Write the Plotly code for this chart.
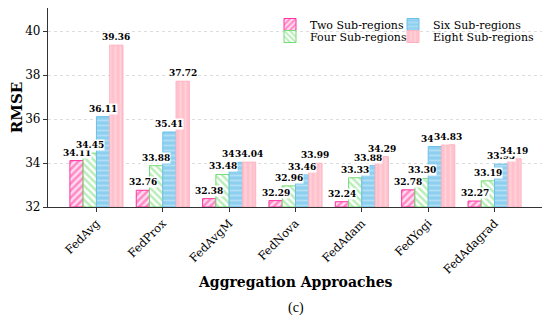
import plotly.graph_objects as go

categories = ["FedAvg", "FedProx", "FedAvgM", "FedNova", "FedAdam", "FedYogi", "FedAdagrad"]
series_names = ["Two Sub-regions", "Four Sub-regions", "Six Sub-regions", "Eight Sub-regions"]
two = [34.11, 32.76, 32.38, 32.29, 32.24, 32.78, 32.27]
four = [34.45, 33.88, 33.48, 32.96, 33.33, 33.30, 33.19]
six = [36.11, 35.41, 34.03, 33.46, 33.88, 34.75, 33.95]
eight = [39.36, 37.72, 34.04, 33.99, 34.29, 34.83, 34.19]
y_ticks = [32, 34, 36, 38, 40]

series = [two, four, six, eight]
styles = [
    dict(shape="/", fg="#ff33a0", bg="#ffdcee", line="#ff33a0", sol=0.5),
    dict(shape="\\", fg="#74dc74", bg="#ffffff", line="#74dc74", sol=0.5),
    dict(shape="-", fg="#d8f0fb", bg="#8dcfee", line="#6cc0ea", sol=0.35),
    dict(shape="|", fg="#ffe3e8", bg="#ffc1cc", line="#ffb1c0", sol=0.35),
]
legend_ids = ["legend", "legend2", "legend3", "legend4"]
serif = "DejaVu Serif"

# page offset compensation (page body margin 8px)
W, H = 542, 316
plot_left, plot_right, plot_top, plot_bottom = 40, 535, 0, 199
pw, ph = plot_right - plot_left, plot_bottom - plot_top

def px_x(x):
    return (x - plot_left) / pw

def px_y(y):
    return (plot_bottom - y) / ph

fig = go.Figure()
xs = list(range(len(categories)))
bw = 0.2
for k, (name, vals, st) in enumerate(zip(series_names, series, styles)):
    fig.add_trace(go.Bar(
        x=xs, y=[v - 32 for v in vals], base=32, name=name, width=bw,
        offset=(k - 2) * bw, legend=legend_ids[k],
        marker=dict(color=st["bg"], line=dict(color=st["line"], width=1),
                    pattern=dict(shape=st["shape"], fgcolor=st["fg"], bgcolor=st["bg"],
                                 size=5, solidity=st["sol"], fillmode="overlay")),
    ))

annotations = []
for k, vals in enumerate(series):
    for i, v in enumerate(vals):
        annotations.append(dict(
            x=i + (k - 1.5) * bw, y=v, xref="x", yref="y", text="<b>%.2f</b>" % v,
            showarrow=False, yanchor="bottom", yshift=2, bgcolor="white", borderpad=0,
            font=dict(family=serif, size=9, color="black"),
        ))
annotations.append(dict(x=0.5, y=px_y(274), xref="paper", yref="paper",
                        text="<b>Aggregation Approaches</b>",
                        showarrow=False, yanchor="middle",
                        font=dict(family=serif, size=14, color="black")))
annotations.append(dict(x=0.5, y=px_y(300), xref="paper", yref="paper", text="(c)",
                        showarrow=False, yanchor="middle",
                        font=dict(family="Liberation Serif", size=14, color="black")))
fig.update_layout(annotations=annotations)

leg_common = dict(orientation="v", yanchor="top", font=dict(family=serif, size=11, color="black"),
                  bgcolor="rgba(255,255,255,0)", itemwidth=30, tracegroupgap=0)
col_x = [262, 262, 385, 385]
row_y = [2, 14, 2, 14]
legends = {}
for k, lid in enumerate(legend_ids):
    legends[lid] = dict(x=px_x(col_x[k]), y=px_y(row_y[k]), **leg_common)

fig.update_layout(
    width=W, height=H,
    margin=dict(l=plot_left, r=W - plot_right, t=plot_top, b=H - plot_bottom, autoexpand=False),
    paper_bgcolor="white", plot_bgcolor="white",
    showlegend=True,
    **legends,
    xaxis=dict(range=[-0.73, 6.73], tickmode="array", tickvals=xs, ticktext=categories,
               tickangle=-45, ticks="outside", ticklen=4, tickcolor="#333",
               showline=True, linecolor="#333", linewidth=1.2, showgrid=False, automargin=False,
               tickfont=dict(family=serif, size=11.5, color="black")),
    yaxis=dict(range=[32, 41.05], tickvals=y_ticks, ticks="outside", ticklen=4, tickcolor="#333",
               showline=True, linecolor="#333", linewidth=1.2, automargin=False,
               showgrid=True, gridcolor="#dddddd", griddash="dot", gridwidth=1,
               tickfont=dict(family=serif, size=12, color="black"),
               title=dict(text="<b>RMSE</b>", standoff=8,
                          font=dict(family=serif, size=15, color="black"))),
)

fig.write_html("out.html")
